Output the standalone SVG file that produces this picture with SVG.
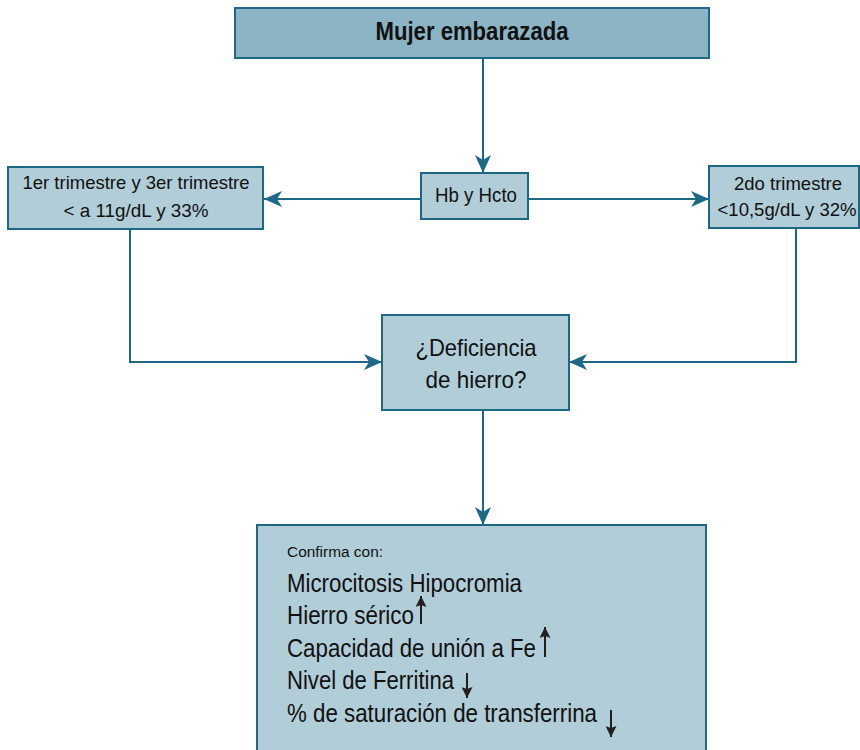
<svg xmlns="http://www.w3.org/2000/svg" width="860" height="750" viewBox="0 0 860 750">
<style>
text{font-family:"Liberation Sans",Arial,sans-serif;fill:#111;}
.box{fill:#b0cdd8;stroke:#1d6787;stroke-width:2;}
.top{fill:#8bb4c4;stroke:#1d6787;stroke-width:2;}
.conn{fill:none;stroke:#1d6787;stroke-width:2;}
.small{fill:none;stroke:#231f20;stroke-width:2;}
.c{text-anchor:middle;}
</style>
<defs>
<marker id="ah" viewBox="0 0 18 16" refX="18" refY="8" markerWidth="18" markerHeight="16" markerUnits="userSpaceOnUse" orient="auto">
<path d="M0,0 L18,8 L0,16 L5,8 z" fill="#1d6787"/>
</marker>
<marker id="bh" viewBox="0 0 11 11" refX="11" refY="5.5" markerWidth="11" markerHeight="11" markerUnits="userSpaceOnUse" orient="auto">
<path d="M0,0 L11,5.5 L0,11 L2,5.5 z" fill="#231f20"/>
</marker>
</defs>
<g id="connectors">
<path class="conn" d="M483,58 V173" marker-end="url(#ah)"/>
<path class="conn" d="M421,199 H264" marker-end="url(#ah)"/>
<path class="conn" d="M528,199 H709" marker-end="url(#ah)"/>
<path class="conn" d="M130,229 V362 H382" marker-end="url(#ah)"/>
<path class="conn" d="M796,228 V362 H569" marker-end="url(#ah)"/>
<path class="conn" d="M483,410 V525" marker-end="url(#ah)"/>
</g>
<g id="mujer">
<rect class="top" x="235" y="8" width="474" height="50"/>
<text class="c" x="472" y="40" font-size="25" font-weight="bold" textLength="193" lengthAdjust="spacingAndGlyphs">Mujer embarazada</text>
</g>
<g id="hb">
<rect class="box" x="421" y="173" width="107" height="46"/>
<text class="c" x="476" y="202" font-size="20" textLength="82" lengthAdjust="spacingAndGlyphs">Hb y Hcto</text>
</g>
<g id="trim13">
<rect class="box" x="8" y="167" width="255" height="62"/>
<text class="c" x="136" y="189" font-size="19" textLength="227" lengthAdjust="spacingAndGlyphs">1er trimestre y 3er trimestre</text>
<text class="c" x="136" y="217" font-size="19" textLength="145" lengthAdjust="spacingAndGlyphs">&lt; a 11g/dL y 33%</text>
</g>
<g id="trim2">
<rect class="box" x="709" y="166" width="150" height="62"/>
<text class="c" x="788" y="190" font-size="19" textLength="108" lengthAdjust="spacingAndGlyphs">2do trimestre</text>
<text class="c" x="787" y="216" font-size="19" textLength="139" lengthAdjust="spacingAndGlyphs">&lt;10,5g/dL y 32%</text>
</g>
<g id="deficiencia">
<rect class="box" x="382" y="315" width="187" height="95"/>
<text class="c" x="476" y="356" font-size="24" textLength="121" lengthAdjust="spacingAndGlyphs">¿Deficiencia</text>
<text class="c" x="476" y="388" font-size="24" textLength="101" lengthAdjust="spacingAndGlyphs">de hierro?</text>
</g>
<g id="confirma">
<rect class="box" x="257" y="525" width="449" height="235"/>
<text x="287" y="557" font-size="14" textLength="96" lengthAdjust="spacingAndGlyphs">Confirma con:</text>
<text x="287" y="592" font-size="25" textLength="235" lengthAdjust="spacingAndGlyphs">Microcitosis Hipocromia</text>
<text x="287" y="624" font-size="25" textLength="127" lengthAdjust="spacingAndGlyphs">Hierro sérico</text>
<text x="287" y="657" font-size="25" textLength="249" lengthAdjust="spacingAndGlyphs">Capacidad de unión a Fe</text>
<text x="287" y="689" font-size="25" textLength="167" lengthAdjust="spacingAndGlyphs">Nivel de Ferritina</text>
<text x="287" y="722" font-size="25" textLength="310" lengthAdjust="spacingAndGlyphs">% de saturación de transferrina</text>
<path class="small" d="M421,624 V596" marker-end="url(#bh)"/>
<path class="small" d="M545,657 V627" marker-end="url(#bh)"/>
<path class="small" d="M467,673 V698" marker-end="url(#bh)"/>
<path class="small" d="M611,710 V737" marker-end="url(#bh)"/>
</g>
</svg>
